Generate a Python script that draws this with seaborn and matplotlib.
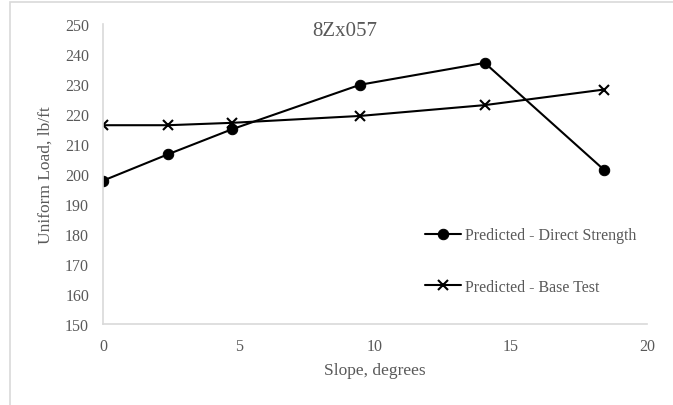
import pandas as pd
import matplotlib
matplotlib.use("Agg")
import matplotlib.pyplot as plt
import seaborn as sns
from matplotlib.patches import Rectangle

# slope angles (degrees) for the roof pitches tested
slope = [0, 2.39, 4.76, 9.46, 14.04, 18.43]
direct_strength = [197.8, 206.6, 215.0, 229.8, 237.1, 201.4]
base_test = [216.3, 216.3, 217.1, 219.4, 223.0, 228.2]

title = "8Zx057"
x_label = "Slope, degrees"
y_label = "Uniform Load, lb/ft"

sns.set_style("white")
plt.rcParams["font.family"] = ["Liberation Serif", "DejaVu Serif"]

text_col = "#595959"
axis_col = "#d9d9d9"

fig = plt.figure(figsize=(6.73, 4.06), dpi=100)
ax = fig.add_axes([0.153, 0.1995, 0.808, 0.7385])

df = pd.DataFrame({"slope": slope, "ds": direct_strength, "bt": base_test})
sns.lineplot(data=df, x="slope", y="ds", ax=ax, color="black", lw=1.5,
             marker="o", markersize=7.5, markeredgecolor="black",
             label="Predicted - Direct Strength")
sns.lineplot(data=df, x="slope", y="bt", ax=ax, color="black", lw=1.5,
             marker="x", markersize=7, markeredgewidth=1.5, markeredgecolor="black",
             label="Predicted - Base Test")

ax.set_xlim(0, 20)
ax.set_ylim(150, 250)
ax.set_xticks(range(0, 21, 5))
ax.set_yticks(range(150, 251, 10))
ax.tick_params(colors=text_col, labelsize=11.5, length=0, pad=10)

for s in ["top", "right"]:
    ax.spines[s].set_visible(False)
for s in ["left", "bottom"]:
    ax.spines[s].set_color(axis_col)
    ax.spines[s].set_linewidth(1.2)

ax.set_xlabel(x_label, color=text_col, fontsize=12.5, labelpad=6)
ax.set_ylabel(y_label, color=text_col, fontsize=12.5, labelpad=8)
ax.text(0.445, 0.98, title, transform=ax.transAxes, ha="center", va="center",
        color=text_col, fontsize=15)

leg = ax.legend(loc="center left", bbox_to_anchor=(0.565, 0.21), frameon=False,
                fontsize=11.5, labelspacing=2.2, handlelength=2.3, handletextpad=0.2)
for t in leg.get_texts():
    t.set_color(text_col)

# light frame around the chart area, partly cropped like the original
fig.patches.append(Rectangle((10 / 673, -0.1), 1.2, 1.1 - 3 / 406,
                             transform=fig.transFigure, fill=False,
                             edgecolor=axis_col, lw=1.2))

fig.savefig("out.png", dpi=100)
